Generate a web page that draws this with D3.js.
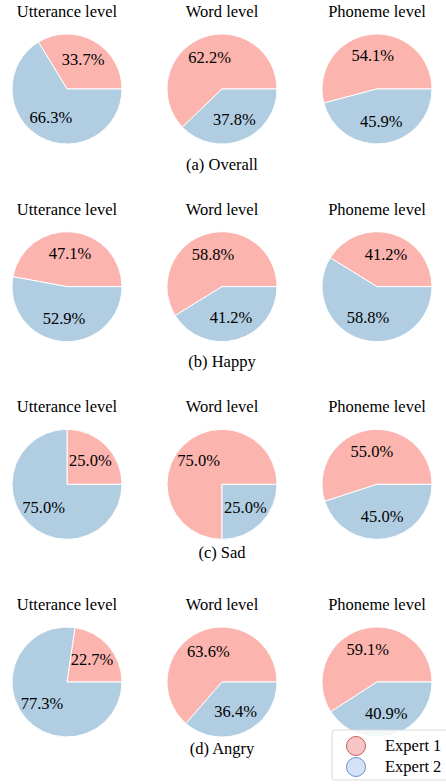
<!DOCTYPE html>
<html>
<head>
<meta charset="utf-8">
<script src="https://cdn.jsdelivr.net/npm/d3@7/dist/d3.min.js"></script>
<style>
  html, body { margin: 0; padding: 0; background: #fff; }
  svg { display: block; }
</style>
</head>
<body>
<svg id="chart" width="446" height="784"></svg>
<script>
// ---- data ----
const levels = ["Utterance level", "Word level", "Phoneme level"];
const groups = ["(a) Overall", "(b) Happy", "(c) Sad", "(d) Angry"];
const seriesNames = ["Expert 1", "Expert 2"];
const expert1 = [
  [33.7, 62.2, 54.1],
  [47.1, 58.8, 41.2],
  [25.0, 75.0, 55.0],
  [22.7, 63.6, 59.1]
];
const expert2 = [
  [66.3, 37.8, 45.9],
  [52.9, 41.2, 58.8],
  [75.0, 25.0, 45.0],
  [77.3, 36.4, 40.9]
];

// ---- layout / style ----
const FONT = "'Liberation Serif', 'Times New Roman', 'DejaVu Serif', serif";
const pieColors = ["#fbb4ae", "#b0cde2"];
const legendFill = ["#f6c5c6", "#d3e2f6"];
const legendStroke = ["#c95a5a", "#6b8fd0"];
const radius = 55;
const subtitleOffset = [81, 80.5, 74, 72];
const fontSize = 16.5;

const svg = d3.select("#chart");
const x = d3.scalePoint().domain(levels).range([67, 377]);
const y = d3.scalePoint().domain(groups).range([89, 682]);
const color = d3.scaleOrdinal().domain(seriesNames).range(pieColors);

const pie = d3.pie()
  .sort(null)
  .value(d => d.value)
  .startAngle(Math.PI / 2)
  .endAngle(Math.PI / 2 - 2 * Math.PI);
const arc = d3.arc().innerRadius(0).outerRadius(radius);
const labelArc = d3.arc().innerRadius(radius * 0.6).outerRadius(radius * 0.6);

function txt(sel) {
  return sel.attr("font-family", FONT).attr("font-size", fontSize).attr("fill", "#000");
}

groups.forEach((g, gi) => {
  levels.forEach((lv, li) => {
    const cx = x(lv), cy = y(g);
    const data = [
      { name: seriesNames[0], value: expert1[gi][li] },
      { name: seriesNames[1], value: expert2[gi][li] }
    ];
    const cell = svg.append("g").attr("transform", `translate(${cx},${cy})`);
    const arcs = pie(data);
    cell.selectAll("path").data(arcs).enter().append("path")
      .attr("d", arc)
      .attr("fill", d => color(d.data.name))
      .attr("stroke", "#fff")
      .attr("stroke-width", 1);
    txt(cell.selectAll("text.pct").data(arcs).enter().append("text")
      .attr("class", "pct")
      .attr("transform", d => `translate(${labelArc.centroid(d)})`)
      .attr("text-anchor", "middle")
      .attr("dy", "0.3em"))
      .text(d => d.data.value.toFixed(1) + "%");
    txt(svg.append("text")
      .attr("x", cx).attr("y", cy - 72)
      .attr("text-anchor", "middle"))
      .text(lv);
  });
  txt(svg.append("text")
    .attr("x", x(levels[1])).attr("y", y(g) + subtitleOffset[gi])
    .attr("text-anchor", "middle"))
    .text(g);
});

// ---- legend ----
const legend = svg.append("g").attr("transform", "translate(332,730)");
legend.append("rect")
  .attr("x", 0).attr("y", 0).attr("width", 116).attr("height", 50)
  .attr("rx", 3)
  .attr("fill", "#fff").attr("fill-opacity", 0.85)
  .attr("stroke", "#d9d9d9").attr("stroke-width", 1);
seriesNames.forEach((s, i) => {
  legend.append("circle")
    .attr("cx", 24).attr("cy", 16 + i * 21)
    .attr("r", 9.5)
    .attr("fill", legendFill[i])
    .attr("stroke", legendStroke[i])
    .attr("stroke-width", 1);
  txt(legend.append("text")
    .attr("x", 53).attr("y", 16 + i * 21)
    .attr("dy", "0.3em"))
    .text(s);
});
</script>
</body>
</html>
